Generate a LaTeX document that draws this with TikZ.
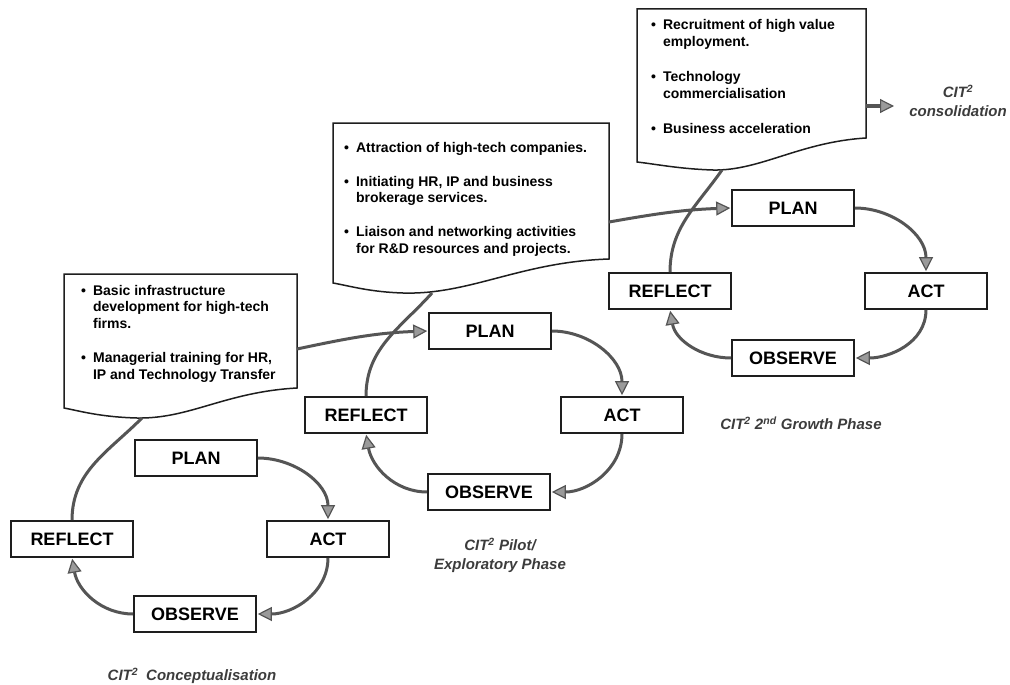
\documentclass[tikz,border=0pt]{standalone}
\usepackage{fontspec}
\setmainfont{Liberation Sans}
\usepackage{tikz}
\usetikzlibrary{arrows.meta}
\definecolor{cyclegray}{HTML}{555555}
\definecolor{tipgray}{HTML}{9A9A9A}
\definecolor{boxline}{HTML}{1E1E1E}
\definecolor{labelgray}{HTML}{3C3C3C}

\begin{document}
\begin{tikzpicture}[
    x=1pt, y=1pt,
    stage/.style={rectangle, draw=boxline, line width=1.6pt, minimum width=122pt, minimum height=36pt, inner sep=0pt, font=\fontsize{18}{20}\selectfont\bfseries},
    doc/.style={draw=boxline, line width=1.5pt, fill=white},
    items/.style={anchor=base west, inner sep=0pt, font=\fontsize{14}{16.5}\selectfont\bfseries},
    flow/.style={-{Triangle[length=14pt, width=14pt, fill=tipgray, line width=1.2pt]}, line width=3pt, color=cyclegray, shorten >=1pt},
    link/.style={line width=3pt, color=cyclegray},
    phase/.style={font=\fontsize{15}{19}\selectfont\bfseries\itshape, color=labelgray, align=center}
]
\useasboundingbox[fill=white] (0,0) rectangle (1010,-685);

% Documents
\draw[doc] (64,-274) -- (297,-274) -- (297,-388) .. controls (225,-392) and (190,-419) .. (137,-418) .. controls (100,-417) and (80,-411) .. (64,-408) -- cycle;
\draw[doc] (333,-123) -- (609,-123) -- (609,-259) .. controls (520,-262) and (470,-295) .. (403,-293) .. controls (370,-292) and (350,-286) .. (333,-283) -- cycle;
\draw[doc] (637,-9) -- (866,-9) -- (866,-138) .. controls (800,-142) and (760,-171) .. (713,-170) .. controls (680,-169) and (655,-164) .. (637,-162) -- cycle;

\node[items] (t1) at (81,-295) {\begin{tabular}[t]{@{}l@{\hspace{7pt}}l@{}}
\textbullet & Basic infrastructure\\
 & development for high-tech\\
 & firms.\\[18pt]
\textbullet & Managerial training for HR,\\
 & IP and Technology Transfer
\end{tabular}};
\node[items] (t2) at (344,-152) {\begin{tabular}[t]{@{}l@{\hspace{7pt}}l@{}}
\textbullet & Attraction of high-tech companies.\\[17.5pt]
\textbullet & Initiating HR, IP and business\\
 & brokerage services.\\[17.5pt]
\textbullet & Liaison and networking activities\\
 & for R\&D resources and projects.
\end{tabular}};
\node[items] (t3) at (651,-30) {\begin{tabular}[t]{@{}l@{\hspace{7pt}}l@{}}
\textbullet & Recruitment of high value\\
 & employment.\\[19pt]
\textbullet & Technology\\
 & commercialisation\\[19pt]
\textbullet & Business acceleration
\end{tabular}};

% Attachment points on the documents
\coordinate (d1b) at (142,-418);
\coordinate (d1r) at (297,-349);
\coordinate (d2b) at (432,-293);
\coordinate (d2r) at (609,-222);
\coordinate (d3b) at (722,-170);
\coordinate (d3r) at (866,-106);
\coordinate (c3) at (895,-106);

% Cycle 1
\node[stage] (p1) at (196,-458) {PLAN};
\node[stage] (r1) at (72,-539) {REFLECT};
\node[stage] (a1) at (328,-539) {ACT};
\node[stage] (o1) at (195,-614) {OBSERVE};

% Cycle 2
\node[stage] (p2) at (490,-331) {PLAN};
\node[stage] (r2) at (366,-415) {REFLECT};
\node[stage] (a2) at (622,-415) {ACT};
\node[stage] (o2) at (489,-492) {OBSERVE};

% Cycle 3
\node[stage] (p3) at (793,-208) {PLAN};
\node[stage] (r3) at (670,-291) {REFLECT};
\node[stage] (a3) at (926,-291) {ACT};
\node[stage] (o3) at (793,-358) {OBSERVE};

% Cycle arrows
\draw[flow] (p1.east) to[out=0, in=90] (a1.north);
\draw[flow] (a1.south) to[out=-90, in=0] (o1.east);
\draw[flow] (o1.west) to[out=180, in=-80] (r1.south);
\draw[link] (r1.north) to[out=90, in=225] (d1b);
\draw[flow] (d1r) to[out=12, in=182] (p2.west);

\draw[flow] (p2.east) to[out=0, in=90] (a2.north);
\draw[flow] (a2.south) to[out=-90, in=0] (o2.east);
\draw[flow] (o2.west) to[out=180, in=-80] (r2.south);
\draw[link] (r2.north) to[out=90, in=228] (d2b);
\draw[flow] (d2r) to[out=10, in=182] (p3.west);

\draw[flow] (p3.east) to[out=0, in=90] (a3.north);
\draw[flow] (a3.south) to[out=-90, in=0] (o3.east);
\draw[flow] (o3.west) to[out=180, in=-80] (r3.south);
\draw[link] (r3.north) to[out=90, in=235] (d3b);
\draw[flow] (d3r) -- (c3);

% Phase labels
\node[phase] (ph1) at (192,-676) {CIT\textsuperscript{2}\hspace{8pt}Conceptualisation};
\node[phase] (ph2) at (500,-555) {CIT\textsuperscript{2} Pilot/\\Exploratory Phase};
\node[phase] (ph3) at (801,-423) {CIT\textsuperscript{2} 2\textsuperscript{nd} Growth Phase};
\node[phase] (ph4) at (958,-101) {CIT\textsuperscript{2}\\consolidation};

\end{tikzpicture}
\end{document}
